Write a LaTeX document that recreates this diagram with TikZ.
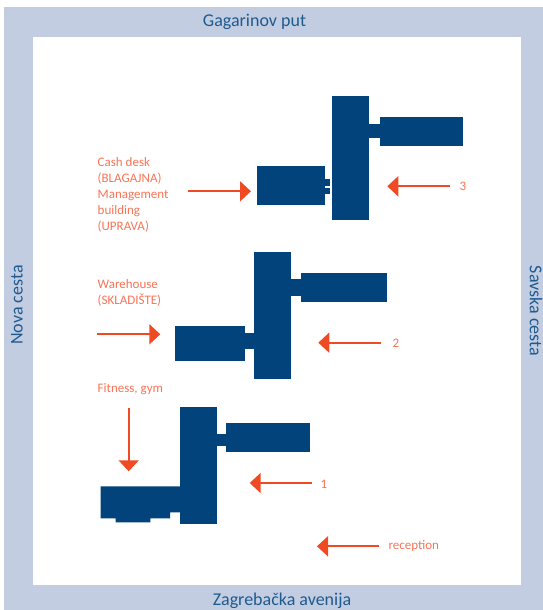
\documentclass[tikz,border=0pt]{standalone}
\usepackage{fontspec}
\setmainfont{Carlito}
\usetikzlibrary{arrows.meta}
\definecolor{road}{HTML}{C3CDE2}
\definecolor{bld}{HTML}{02437B}
\definecolor{roadtxt}{HTML}{1F5A8F}
\definecolor{arr}{HTML}{F04A24}
\definecolor{lbl}{HTML}{FA7457}
\tikzset{
  roadlabel/.style={text=roadtxt,font=\fontsize{18}{20}\selectfont,inner sep=0pt},
  lab/.style={text=lbl,font=\fontsize{13}{16}\selectfont,inner sep=0pt,anchor=west,align=left},
  pointer/.style={draw=arr,line width=1.8pt,-{Triangle[length=11pt,width=20pt]},shorten >=0pt},
  building/.style={fill=bld,draw=none}
}
\begin{document}
\begin{tikzpicture}[x=1pt,y=-1pt]
\useasboundingbox (0,0) rectangle (543,610);
\fill[white] (0,0) rectangle (543,610);
\fill[road] (4,7) rectangle (543,610);
\fill[white] (33,37) rectangle (521,585);
% building 3
\fill[building] (331.7,96) rectangle (369.3,220.3);
\fill[building] (380,116.7) rectangle (463.3,145.7);
\fill[building] (369,123.7) rectangle (380.5,138.3);
\fill[building] (257.3,166.3) rectangle (325,205);
\fill[building] (324.5,179.3) rectangle (330,185.7);
\fill[building] (324.5,188) rectangle (330,193.7);
% building 2
\fill[building] (254.3,251.7) rectangle (290.7,378.7);
\fill[building] (300.7,273) rectangle (387.3,302.3);
\fill[building] (290,279) rectangle (301,295.7);
\fill[building] (175,326.3) rectangle (244.7,360.7);
\fill[building] (244,332.7) rectangle (255,349.3);
% building 1
\fill[building] (179.7,406.7) rectangle (216.7,524.3);
\fill[building] (226,423.3) rectangle (309.7,452);
\fill[building] (216,434) rectangle (226.5,446);
\fill[building] (100.7,486.3) -- (180,486.3) -- (180,512.3) -- (170,512.3) -- (170,518.3) -- (150.3,518.3) -- (150.3,522.3) -- (115.7,522.3) -- (115.7,518.3) -- (100.7,518.3) -- cycle;
% road names
\node[roadlabel] (gagarinov) at (254.5,21.5) {Gagarinov put};
\node[roadlabel] (zagreb) at (282,601) {Zagrebačka avenija};
\node[roadlabel,rotate=90] (nova) at (17,305) {Nova cesta};
\node[roadlabel,rotate=-90] (savska) at (536,311) {Savska cesta};
% labels
\node[lab] (cash) at (97.5,194.8) {Cash desk\\(BLAGAJNA)\\Management\\building\\(UPRAVA)};
\node[lab] (ware) at (97.5,292.8) {Warehouse\\(SKLADIŠTE)};
\node[lab] (fit) at (97.5,389.5) {Fitness, gym};
\node[lab] (n3) at (459.5,186) {3};
\node[lab] (n2) at (392.5,343) {2};
\node[lab] (n1) at (320.5,484.5) {1};
\node[lab] (rec) at (388.3,546.5) {reception};
% arrows
\coordinate (a3s) at (188,191.3); \coordinate (a3e) at (251,191.3);
\coordinate (b3s) at (450,186.3); \coordinate (b3e) at (387.3,186.3);
\coordinate (a2s) at (97.3,334.3); \coordinate (a2e) at (160.3,334.3);
\coordinate (b2s) at (381,342.7); \coordinate (b2e) at (318.3,342.7);
\coordinate (a1s) at (128.7,408.3); \coordinate (a1e) at (128.7,471.3);
\coordinate (b1s) at (312,483); \coordinate (b1e) at (249.7,483);
\coordinate (rs) at (379.3,546.3); \coordinate (re) at (317,546.3);
\draw[pointer] (a3s) -- (a3e);
\draw[pointer] (b3s) -- (b3e);
\draw[pointer] (a2s) -- (a2e);
\draw[pointer] (b2s) -- (b2e);
\draw[pointer] (a1s) -- (a1e);
\draw[pointer] (b1s) -- (b1e);
\draw[pointer] (rs) -- (re);
\end{tikzpicture}
\end{document}
